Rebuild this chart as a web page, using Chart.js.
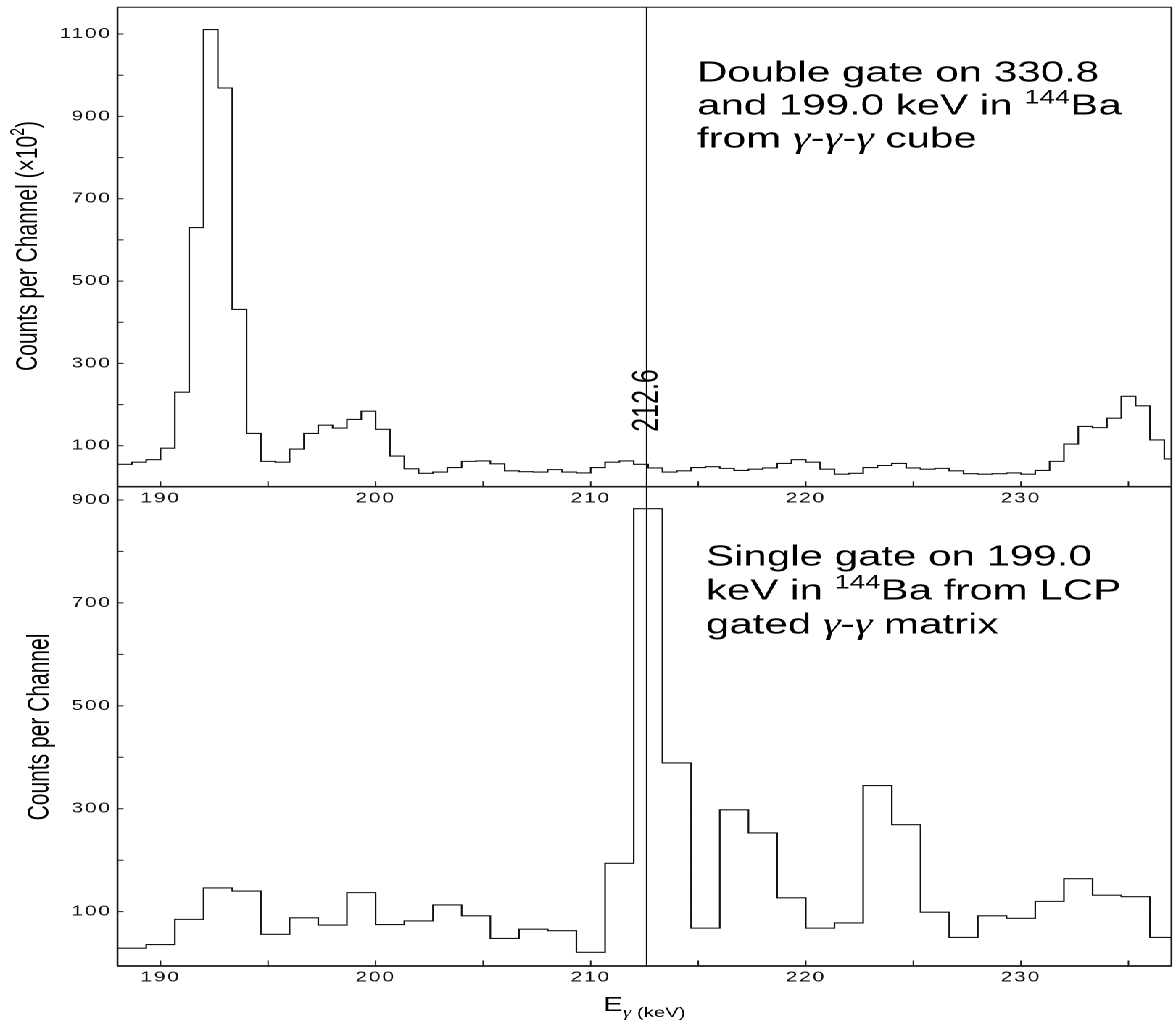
<!DOCTYPE html>
<html>
<head>
<meta charset="utf-8">
<script src="https://cdn.jsdelivr.net/npm/chart.js@4.4.0/dist/chart.umd.min.js"></script>
<style>
  html, body { margin: 0; padding: 0; background: #fff; }
  /* the figure is drawn narrow and stretched sideways, like the original plot */
  #stage { position: absolute; left: 0; top: 0; width: 809px; height: 1021px;
           transform: scaleX(1.45); transform-origin: 0 0; }
  #stage canvas { position: absolute; left: 0; top: 0; }
</style>
</head>
<body>
<div id="stage">
  <canvas id="cubeChart" width="809" height="1021"></canvas>
  <canvas id="matrixChart" width="809" height="1021"></canvas>
</div>
<script>
// energy binning (keV)
const cubeBinStart = 188;
const cubeBinWidth = 2 / 3;
const matrixBinStart = 188;
const matrixBinWidth = 4 / 3;

// double gate 330.8/199.0 keV, gamma-gamma-gamma cube (x10^2 counts)
const cubeCounts = [
  55, 60, 66, 94, 230, 630, 1111, 969, 431, 130,
  62, 60, 92, 130, 150, 143, 164, 184, 140, 75,
  44, 33, 36, 47, 62, 63, 56, 39, 37, 36,
  42, 36, 34, 47, 60, 63, 55, 46, 36, 39,
  47, 49, 45, 40, 43, 46, 57, 66, 60, 43,
  31, 33, 47, 52, 57, 46, 43, 45, 39, 32,
  31, 32, 34, 31, 40, 62, 104, 147, 144, 167,
  220, 197, 114, 68
];

// single gate 199.0 keV, LCP gated gamma-gamma matrix
const matrixCounts = [
  29, 36, 85, 146, 140, 56, 88, 74, 137, 75,
  82, 113, 92, 48, 66, 63, 21, 194, 883, 389,
  68, 298, 253, 127, 68, 78, 345, 269, 99, 50,
  92, 87, 120, 164, 132, 129, 50
];

const energyRange = [188, 237];
const energyLabels = [190, 200, 210, 220, 230];
const energyMarks = [190, 195, 200, 205, 210, 215, 220, 225, 230, 235];
const cubeRange = [0.5, 1165];
const cubeLabels = [100, 300, 500, 700, 900, 1100];
const cubeMarks = [100, 200, 300, 400, 500, 600, 700, 800, 900, 1000, 1100];
const matrixRange = [-5.6, 925.8];
const matrixLabels = [100, 300, 500, 700, 900];
const matrixMarks = [100, 200, 300, 400, 500, 600, 700, 800, 900];
const gateEnergy = 212.6;

const SANS = "'Liberation Sans', Arial, Helvetica, sans-serif";
const GAMMA = "italic 31px 'Liberation Serif', 'Times New Roman', serif";
const H = 1021;

// left edges of the bins plus the closing edge, for a stepped line
function stepPoints(start, width, counts) {
  const pts = counts.map((c, i) => ({ x: start + i * width, y: c }));
  pts.push({ x: start + counts.length * width, y: counts[counts.length - 1] });
  return pts;
}

// text made of several runs (superscripts, italic gamma)
function runsWidth(ctx, runs) {
  let w = 0;
  for (const r of runs) { ctx.font = r.font; w += ctx.measureText(r.t).width; }
  return w;
}
function drawRuns(ctx, x, y, runs) {
  for (const r of runs) {
    ctx.font = r.font;
    ctx.fillText(r.t, x, y + (r.dy || 0));
    x += ctx.measureText(r.t).width;
  }
}

const big = t => ({ t, font: '29px ' + SANS });
const sup = t => ({ t, font: '19px ' + SANS, dy: -11 });
const gam = () => ({ t: 'γ', font: GAMMA });

const spectrumFrame = {
  id: 'spectrumFrame',
  beforeDraw(chart) {
    chart.ctx.letterSpacing = '1.2px';
  },
  afterDraw(chart, args, o) {
    const { ctx, chartArea: a, scales: { x, y } } = chart;
    ctx.save();
    ctx.letterSpacing = '0px';
    ctx.strokeStyle = '#1a1a1a';
    ctx.fillStyle = '#000';

    // frame
    ctx.lineWidth = 1.3;
    ctx.beginPath();
    ctx.moveTo(a.left, a.top); ctx.lineTo(a.left, a.bottom);
    ctx.moveTo(a.right, a.top); ctx.lineTo(a.right, a.bottom);
    ctx.stroke();
    ctx.lineWidth = 1.7;
    ctx.beginPath();
    ctx.moveTo(a.left, a.bottom); ctx.lineTo(a.right, a.bottom);
    ctx.stroke();
    if (o.topEdge) {
      ctx.lineWidth = 1;
      ctx.beginPath();
      ctx.moveTo(a.left, a.top); ctx.lineTo(a.right, a.top);
      ctx.stroke();
    }

    // inward tick marks
    ctx.lineWidth = 1;
    ctx.beginPath();
    for (const v of energyMarks) {
      const px = x.getPixelForValue(v);
      ctx.moveTo(px, a.bottom); ctx.lineTo(px, a.bottom - 5.5);
    }
    for (const v of o.yMarks) {
      const py = y.getPixelForValue(v);
      ctx.moveTo(a.left, py); ctx.lineTo(a.left + 4.2, py);
    }
    ctx.stroke();

    // gate line at 212.6 keV
    const gx = x.getPixelForValue(gateEnergy);
    ctx.strokeStyle = '#000';
    ctx.lineWidth = 1;
    ctx.beginPath();
    ctx.moveTo(gx, a.top); ctx.lineTo(gx, a.bottom);
    ctx.stroke();

    if (o.gateLabel) {
      ctx.save();
      ctx.translate(gx + 0.5, y.getPixelForValue(210));
      ctx.rotate(-Math.PI / 2);
      ctx.font = '25px ' + SANS;
      ctx.textAlign = 'center';
      ctx.textBaseline = 'middle';
      ctx.fillText('212.6', 0, 0);
      ctx.restore();
    }

    // note in the upper right
    ctx.textAlign = 'left';
    ctx.textBaseline = 'alphabetic';
    o.note.forEach((runs, i) => drawRuns(ctx, o.noteX, a.top + o.noteY + i * o.noteStep, runs));

    // y axis title, rotated
    ctx.save();
    ctx.translate(o.titleX, o.titleY);
    ctx.rotate(-Math.PI / 2);
    ctx.textBaseline = 'middle';
    const tw = runsWidth(ctx, o.title);
    drawRuns(ctx, -tw / 2, 0, o.title);
    ctx.restore();

    // x axis title under the lower panel
    if (o.xTitle) {
      const xt = [
        { t: 'E', font: '20px ' + SANS },
        { t: 'γ', font: "italic 15px 'Liberation Serif', serif", dy: 6 },
        { t: ' (keV)', font: '14px ' + SANS, dy: 6 }
      ];
      const w = runsWidth(ctx, xt);
      drawRuns(ctx, (a.left + a.right) / 2 - w / 2, 1011, xt);
    }
    ctx.restore();
  }
};

function spectrumChart(id, cfg) {
  return new Chart(document.getElementById(id), {
    type: 'line',
    data: {
      datasets: [{
        data: stepPoints(cfg.start, cfg.width, cfg.counts),
        stepped: true,
        borderColor: '#111',
        borderWidth: 1.1,
        pointRadius: 0,
        fill: false
      }]
    },
    options: {
      responsive: false,
      animation: false,
      devicePixelRatio: 2,
      layout: { padding: { left: 6.03, right: 1.1, top: cfg.top, bottom: H - cfg.bottom - 30 } },
      plugins: {
        legend: { display: false },
        tooltip: { enabled: false },
        spectrumFrame: cfg.frame
      },
      scales: {
        x: {
          type: 'linear',
          min: energyRange[0],
          max: energyRange[1],
          afterBuildTicks: s => { s.ticks = energyLabels.map(v => ({ value: v })); },
          afterFit: s => { s.height = 30; s.paddingLeft = 0; s.paddingRight = 0; },
          grid: { display: false, drawTicks: false },
          border: { display: false },
          ticks: { padding: 3, maxRotation: 0, autoSkip: false, color: '#111',
                   font: { family: SANS, size: 14.5 }, callback: v => String(v) }
        },
        y: {
          type: 'linear',
          min: cfg.range[0],
          max: cfg.range[1],
          afterBuildTicks: s => { s.ticks = cfg.labels.map(v => ({ value: v })); },
          afterFit: s => { s.width = 75; s.paddingTop = 0; s.paddingBottom = 0; },
          grid: { display: false, drawTicks: false },
          border: { display: false },
          ticks: { padding: 4, autoSkip: false, color: '#111',
                   font: { family: SANS, size: 14.5 }, callback: v => String(v) }
        }
      }
    },
    plugins: [spectrumFrame]
  });
}

spectrumChart('cubeChart', {
  start: cubeBinStart, width: cubeBinWidth, counts: cubeCounts,
  range: cubeRange, labels: cubeLabels, top: 7.3, bottom: 486.7,
  frame: {
    topEdge: true, gateLabel: true, yMarks: cubeMarks, xTitle: false,
    noteX: 480.7, noteY: 74, noteStep: 33,
    note: [
      [big('Double gate on 330.8')],
      [big('and 199.0 keV in '), sup('144'), big('Ba')],
      [big('from '), gam(), big('-'), gam(), big('-'), gam(), big(' cube')]
    ],
    titleX: 19.7, titleY: 246,
    title: [
      { t: 'Counts per Channel (×10', font: '21px ' + SANS },
      { t: '2', font: '14px ' + SANS, dy: -7 },
      { t: ')', font: '21px ' + SANS }
    ]
  }
});

spectrumChart('matrixChart', {
  start: matrixBinStart, width: matrixBinWidth, counts: matrixCounts,
  range: matrixRange, labels: matrixLabels, top: 486.7, bottom: 966,
  frame: {
    topEdge: false, gateLabel: false, yMarks: matrixMarks, xTitle: true,
    noteX: 486.9, noteY: 79, noteStep: 34,
    note: [
      [big('Single gate on 199.0')],
      [big('keV in '), sup('144'), big('Ba from LCP')],
      [big('gated '), gam(), big('-'), gam(), big(' matrix')]
    ],
    titleX: 27.6, titleY: 727,
    title: [{ t: 'Counts per Channel', font: '21px ' + SANS }]
  }
});
</script>
</body>
</html>
